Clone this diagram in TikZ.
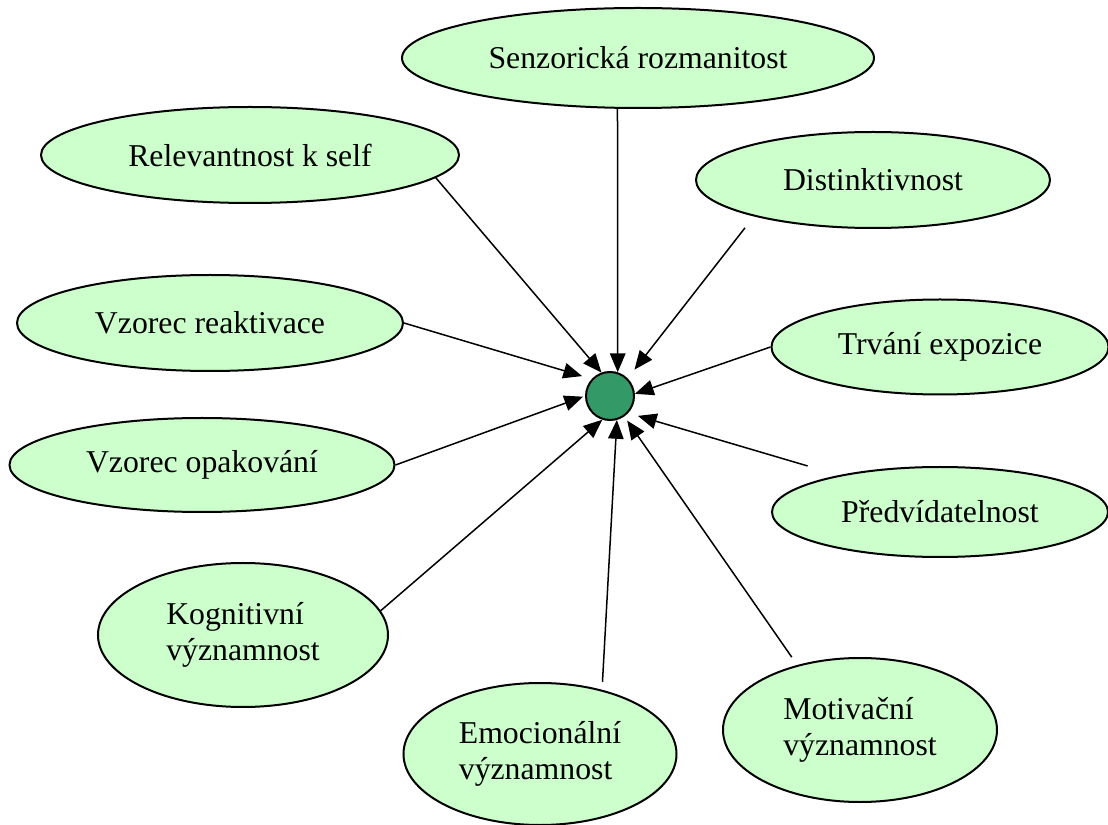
\documentclass[tikz,border=0pt]{standalone}
\usepackage{fontspec}
\setmainfont{Liberation Serif}
\usetikzlibrary{shapes.geometric,arrows.meta}
\definecolor{paleleaf}{HTML}{CCFFCC}
\definecolor{dotgreen}{HTML}{339966}

\begin{document}
\begin{tikzpicture}[x=0.4pt,y=-0.4pt,
    bubble/.style={ellipse,draw,line width=0.8pt,fill=paleleaf,inner sep=0pt,
        align=left,font=\fontsize{12.7}{14.6}\selectfont},
    hub/.style={circle,draw,line width=0.8pt,fill=dotgreen,minimum size=19.2pt,inner sep=0pt},
    pointer/.style={-{Triangle[length=7.5pt,width=6.2pt]},line width=0.6pt}]
    \useasboundingbox (0,0) rectangle (1108,825);
    \node[hub] (dot) at (610,396) {};
    \node[bubble,minimum width=188.8pt,minimum height=40pt] (sen) at (638,58) {Senzorická rozmanitost};
    \node[bubble,minimum width=167.2pt,minimum height=38.4pt] (rel) at (250,155) {Relevantnost k self};
    \node[bubble,minimum width=141.6pt,minimum height=38.4pt] (dis) at (873,180) {Distinktivnost};
    \node[bubble,minimum width=154.4pt,minimum height=38.4pt] (vzr) at (210,323) {Vzorec reaktivace};
    \node[bubble,minimum width=134.8pt,minimum height=38pt] (trv) at (940,347) {Trvání expozice};
    \node[bubble,minimum width=154pt,minimum height=37.6pt] (vzo) at (202,465) {Vzorec opakování};
    \node[bubble,minimum width=134.4pt,minimum height=36pt] (pre) at (940,512) {Předvídatelnost};
    \node[bubble,minimum width=116pt,minimum height=57.6pt] (kog) at (243,635) {Kognitivní\\významnost};
    \node[bubble,minimum width=109.2pt,minimum height=56.8pt] (emo) at (540,754) {Emocionální\\významnost};
    \node[bubble,minimum width=109.6pt,minimum height=57.6pt] (mot) at (860,730) {Motivační\\významnost};
    \path[pointer]
    (sen.-112) edge (dot.72)
    (rel.-7) edge (dot.110)
    (dis.-163) edge[shorten <=5.8pt,shorten >=4.4pt] (dot.45)
    (vzr.east) edge[shorten >=4pt] (dot.137)
    (trv.west) edge (dot.5)
    (vzo.east) edge[shorten >=0.8pt] (dot.180)
    (pre.160) edge[shorten <=13pt,shorten >=4pt] (dot.-43)
    (kog.10) edge (dot.-108)
    (emo.46) edge[shorten <=3.2pt] (dot.-74)
    (mot.134) edge[shorten <=3.8pt,shorten >=2pt] (dot.-55);
\end{tikzpicture}
\end{document}
